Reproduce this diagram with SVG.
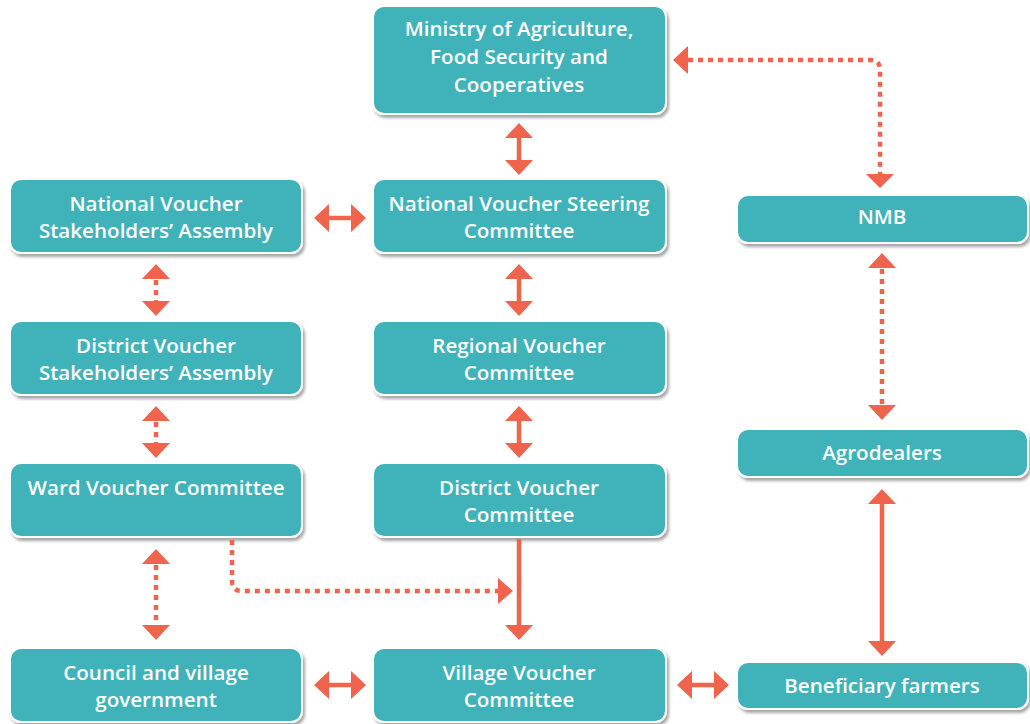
<svg xmlns="http://www.w3.org/2000/svg" width="1030" height="724" viewBox="0 0 1030 724">
<defs>
<filter id="sh" x="-10%" y="-20%" width="125%" height="150%">
<feDropShadow dx="2" dy="3" stdDeviation="1.8" flood-color="#000" flood-opacity="0.35"/>
</filter>
</defs>
<style>
.box{fill:#41B3BA;stroke:#fff;stroke-width:2;filter:url(#sh)}
.t{font-family:"Open Sans","Liberation Sans",sans-serif;font-weight:600;font-size:20.6px;fill:#fff;text-anchor:middle}
.s{fill:none;stroke:#F0644E;stroke-width:4.5}
.d{fill:none;stroke:#F0644E;stroke-width:4.5;stroke-dasharray:5 5}
.h{fill:#F0644E}
</style>
<rect width="1030" height="724" fill="#fff"/>
<g id="ministry"><rect class="box" x="373" y="6" width="293" height="108" rx="11"/><text class="t" x="519" y="36">Ministry of Agriculture,</text><text class="t" x="519" y="64">Food Security and</text><text class="t" x="519" y="92">Cooperatives</text></g>
<g id="nvsc"><rect class="box" x="373" y="179" width="293" height="74" rx="11"/><text class="t" x="519" y="211">National Voucher Steering</text><text class="t" x="519" y="238">Committee</text></g>
<g id="nvsa"><rect class="box" x="10" y="179" width="292" height="74" rx="11"/><text class="t" x="156" y="211">National Voucher</text><text class="t" x="156" y="238">Stakeholders’ Assembly</text></g>
<g id="dvsa"><rect class="box" x="10" y="321" width="292" height="74" rx="11"/><text class="t" x="156" y="353">District Voucher</text><text class="t" x="156" y="380">Stakeholders’ Assembly</text></g>
<g id="rvc"><rect class="box" x="373" y="321" width="293" height="74" rx="11"/><text class="t" x="519" y="353">Regional Voucher</text><text class="t" x="519" y="380">Committee</text></g>
<g id="wvc"><rect class="box" x="10" y="463" width="292" height="74" rx="11"/><text class="t" x="156" y="495">Ward Voucher Committee</text></g>
<g id="dvc"><rect class="box" x="373" y="463" width="293" height="74" rx="11"/><text class="t" x="519" y="495">District Voucher</text><text class="t" x="519" y="522">Committee</text></g>
<g id="council"><rect class="box" x="10" y="648" width="292" height="74" rx="11"/><text class="t" x="156" y="680">Council and village</text><text class="t" x="156" y="707">government</text></g>
<g id="vvc"><rect class="box" x="373" y="648" width="293" height="74" rx="11"/><text class="t" x="519" y="680">Village Voucher</text><text class="t" x="519" y="707">Committee</text></g>
<g id="nmb"><rect class="box" x="737" y="195" width="291" height="48" rx="11"/><text class="t" x="882" y="224">NMB</text></g>
<g id="agro"><rect class="box" x="737" y="429" width="291" height="48" rx="11"/><text class="t" x="882" y="460">Agrodealers</text></g>
<g id="benef"><rect class="box" x="737" y="662" width="291" height="47" rx="11"/><text class="t" x="882" y="693">Beneficiary farmers</text></g>
<g id="connectors">
<line class="s" x1="519" y1="135" x2="519" y2="163"/>
<path class="h" d="M505,138 L519,123 L533,138 Z M505,160 L519,175 L533,160 Z"/>
<line class="s" x1="519" y1="277" x2="519" y2="303"/>
<path class="h" d="M505,279 L519,264 L533,279 Z M505,301 L519,316 L533,301 Z"/>
<line class="s" x1="519" y1="419" x2="519" y2="445"/>
<path class="h" d="M505,421 L519,406 L533,421 Z M505,443 L519,458 L533,443 Z"/>
<line class="s" x1="519" y1="539" x2="519" y2="628"/>
<path class="h" d="M505,625 L519,640 L533,625 Z"/>
<line class="s" x1="327" y1="218" x2="353" y2="218"/>
<path class="h" d="M329,204 L314,218 L329,232 Z M351,204 L366,218 L351,232 Z"/>
<line class="s" x1="327" y1="685" x2="353" y2="685"/>
<path class="h" d="M329,671 L314,685 L329,699 Z M351,671 L366,685 L351,699 Z"/>
<line class="s" x1="690" y1="685" x2="716" y2="685"/>
<path class="h" d="M692,671 L677,685 L692,699 Z M714,671 L729,685 L714,699 Z"/>
<line class="s" x1="882" y1="500" x2="882" y2="645"/>
<path class="h" d="M868,504 L882,489 L896,504 Z M868,641 L882,656 L896,641 Z"/>
<line class="d" x1="156" y1="280" x2="156" y2="302"/>
<path class="h" d="M142,279 L156,264 L170,279 Z M142,301 L156,316 L170,301 Z"/>
<line class="d" x1="156" y1="422" x2="156" y2="444"/>
<path class="h" d="M142,421 L156,406 L170,421 Z M142,443 L156,458 L170,443 Z"/>
<line class="d" x1="156" y1="565" x2="156" y2="626"/>
<path class="h" d="M142,564 L156,549 L170,564 Z M142,625 L156,640 L170,625 Z"/>
<line class="d" x1="882" y1="269" x2="882" y2="406"/>
<path class="h" d="M868,268 L882,253 L896,268 Z M868,405 L882,420 L896,405 Z"/>
<path class="d" d="M232,540 L232,581 Q232,591 242,591 L498,591"/>
<path class="h" d="M498,578 L513,591 L498,604 Z"/>
<path class="d" d="M688,60 L870,60 Q880,60 880,70 L880,175"/>
<path class="h" d="M688,46 L673,60 L688,74 Z M866,174 L880,188 L894,174 Z"/>
</g>
</svg>
